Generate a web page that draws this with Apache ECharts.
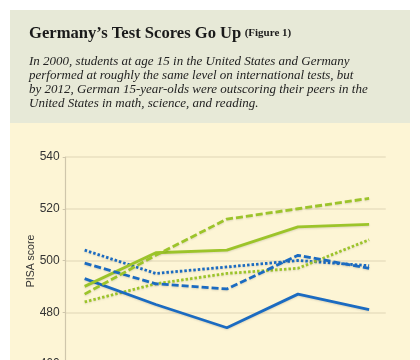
<!DOCTYPE html>
<html>
<head>
<meta charset="utf-8">
<script src="https://cdn.jsdelivr.net/npm/echarts@6/dist/echarts.min.js"></script>
<style>
html,body{margin:0;padding:0;background:#ffffff;overflow:hidden;}
#chart{width:420px;height:380px;}
</style>
</head>
<body>
<div id="chart"></div>
<script>
var years = [2000, 2003, 2006, 2009, 2012];
var germanyMath = [490, 503, 504, 513, 514];
var germanyScience = [487, 502, 516, 520, 524];
var germanyReading = [484, 491, 495, 497, 508];
var usMath = [493, 483, 474, 487, 481];
var usScience = [499, 491, 489, 502, 497];
var usReading = [504, 495, null, 500, 498];
var yTicks = [460, 480, 500, 520, 540];

var titleText = "Germany\u2019s Test Scores Go Up";
var figText = "(Figure 1)";
var subtitle = [
  "In 2000, students at age 15 in the United States and Germany",
  "performed at roughly the same level on international tests, but",
  "by 2012, German 15-year-olds were outscoring their peers in the",
  "United States in math, science, and reading."
];

var GREEN = '#9cc42a', BLUE = '#1b6bc1';
function pairs(vals){ return years.map(function(y,i){ return [y, vals[i]]; }); }
function mk(name, vals, color, type){
  return {
    name: name, type: 'line', data: pairs(vals), connectNulls: true,
    symbol: 'none', silent: true,
    lineStyle: { color: color, width: 2.8, type: type, cap: 'butt',
      shadowColor: 'rgba(0,0,0,0.12)', shadowBlur: 2, shadowOffsetY: 1 }
  };
}

var chart = echarts.init(document.getElementById('chart'), null, {renderer:'canvas'});
chart.setOption({
  animation: false,
  backgroundColor: '#ffffff',
  graphic: [
    { type:'rect', z:-10, shape:{x:10,y:10,width:400,height:113}, style:{fill:'#e7e9d7'} },
    { type:'rect', z:-10, shape:{x:10,y:123,width:400,height:260}, style:{fill:'#fdf5d5'} },
    { type:'text', left: 29, top: 25, style:{
        text: '{a|' + titleText + '} {b|' + figText + '}',
        rich: {
          a: { fontFamily:'Liberation Serif', fontWeight:'bold', fontSize:16.6, fill:'#1a1a1a' },
          b: { fontFamily:'Liberation Serif', fontWeight:'bold', fontSize:11, fill:'#1a1a1a' }
        }
    }},
    { type:'text', left: 29, top: 54, style:{
        text: subtitle.join('\n'), fontFamily:'Liberation Serif', fontStyle:'italic',
        fontSize: 13, lineHeight: 14.3, fill:'#222222'
    }},
    { type:'text', x: 31, y: 261, rotation: Math.PI/2, style:{
        text:'PISA score', fontFamily:'Liberation Sans', fontSize:10.5, fill:'#333333',
        align:'center', verticalAlign:'middle'
    }}
  ],
  grid: { left: 65.7, top: 157, width: 320, height: 207, containLabel: false },
  xAxis: {
    type: 'value', min: 1999.2, max: 2012.7,
    axisLine:{show:false}, axisTick:{show:false}, axisLabel:{show:false}, splitLine:{show:false}
  },
  yAxis: {
    type: 'value', min: yTicks[0], max: yTicks[yTicks.length-1], interval: 20,
    axisLine: { show:true, lineStyle:{ color:'#cfc6ab', width:1.2 } },
    axisTick: { show:true, length:3, lineStyle:{ color:'#cfc6ab' } },
    axisLabel: { color:'#333333', fontFamily:'Liberation Sans', fontSize:12, margin:6 },
    splitLine: { show:true, lineStyle:{ color:'#e9dfbf', width:1.5 } }
  },
  series: [
    mk('US Reading', usReading, BLUE, [2.5, 2]),
    mk('Germany Reading', germanyReading, GREEN, [2.5, 2]),
    mk('US Math', usMath, BLUE, 'solid'),
    mk('Germany Math', germanyMath, GREEN, 'solid'),
    mk('US Science', usScience, BLUE, [7, 3]),
    mk('Germany Science', germanyScience, GREEN, [7, 3])
  ]
});
</script>
</body>
</html>
